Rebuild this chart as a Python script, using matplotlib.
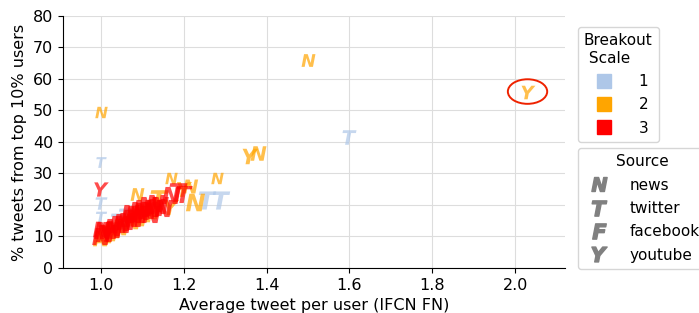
import matplotlib
matplotlib.use("Agg")
import matplotlib.pyplot as plt
from matplotlib.patches import Ellipse
from matplotlib.lines import Line2D

# data
x_vals = [2.03, 1.50, 1.60, 1.359, 1.378, 1.00, 1.00, 1.00, 1.00, 1.00,
          1.17, 1.28, 1.29, 1.255, 1.226, 1.14, 1.17, 1.20, 1.215, 1.087,
          1.00, 1.01, 1.02, 1.03, 1.045, 1.06, 1.075, 1.09, 1.105, 1.12, 1.04, 1.06,
          1.00, 1.005, 1.01, 1.02, 1.03, 1.04, 1.05, 1.06, 1.07, 1.08, 1.09, 1.10,
          1.11, 1.12, 1.13, 1.14, 1.15, 1.07, 1.08, 1.10, 1.12, 1.03, 1.05,
          1.17, 1.185, 1.20, 1.09, 1.11, 1.13, 1.02, 1.0]
y_vals = [56, 66, 41.5, 35.5, 36.5, 49.5, 33.5, 25, 20.5, 16.2,
          28.6, 28.6, 21.5, 21.5, 21, 22, 19.5, 25, 26, 23.5,
          9.5, 10.5, 11, 12, 13, 14, 15, 16, 17, 18, 15, 16.5,
          10, 12, 11, 12, 13, 14, 14.5, 15, 16, 17, 17, 18,
          18.5, 19, 19.5, 20, 19, 17.5, 16, 19, 17, 12.5, 14,
          23, 24, 23.5, 18.5, 20, 20.5, 11, 12.5]
scale_vals = [2, 2, 1, 2, 2, 2, 1, 3, 1, 1,
              2, 2, 1, 1, 2, 2, 2, 2, 2, 2,
              2, 2, 2, 2, 2, 1, 2, 2, 2, 2, 1, 1,
              3, 3, 3, 3, 3, 3, 3, 3, 3, 3, 3, 3,
              3, 3, 3, 3, 3, 3, 3, 3, 3, 3, 3,
              3, 3, 3, 3, 3, 3, 3, 3]
source_vals = ["Y", "N", "T", "Y", "N", "N", "T", "Y", "T", "T",
               "N", "N", "T", "T", "N", "T", "Y", "Y", "N", "N",
               "N", "N", "N", "N", "N", "T", "N", "N", "N", "N", "T", "T",
               "N", "N", "N", "N", "N", "N", "N", "N", "N", "N", "N", "N",
               "N", "N", "N", "N", "N", "N", "N", "N", "N", "N", "N",
               "N", "T", "T", "N", "N", "N", "Y", "N"]
size_vals = [100, 100, 110, 130, 130, 80, 60, 110, 80, 70,
             80, 80, 170, 170, 190, 180, 130, 120, 120, 100,
             150, 150, 150, 150, 150, 130, 150, 150, 150, 150, 130, 130,
             180, 180, 180, 180, 180, 180, 180, 180, 180, 180, 180, 180,
             180, 180, 180, 180, 180, 180, 180, 180, 180, 180, 180,
             180, 180, 150, 180, 180, 180, 150, 150]

scale_labels = ["1", "2", "3"]
scale_colors = {1: "#aec7e8", 2: "#ffa500", 3: "#ff0000"}
source_letters = ["N", "T", "F", "Y"]
source_names = ["news", "twitter", "facebook", "youtube"]
highlight = (2.03, 56)

plt.rcParams["font.family"] = ["DejaVu Sans"]
fig = plt.figure(figsize=(6.99, 3.13), dpi=100)
ax = fig.add_axes([0.09, 0.144, 0.718, 0.805])

for xv, yv, sc, src, sz in zip(x_vals, y_vals, scale_vals, source_vals, size_vals):
    ax.scatter([xv], [yv], marker=f"$\\mathbfit{{{src}}}$", s=sz,
               color=scale_colors[sc], alpha=0.7, linewidths=0, zorder=2 + sc)

ax.add_patch(Ellipse(highlight, width=0.095, height=7.8, fill=False,
                     edgecolor="#ee2200", linewidth=1.4, zorder=8))

ax.set_xlim(0.908, 2.12)
ax.set_ylim(0, 80)
ax.set_xticks([1.0, 1.2, 1.4, 1.6, 1.8, 2.0])
ax.set_yticks(range(0, 81, 10))
ax.grid(True, color="#dddddd", linewidth=0.8)
ax.set_axisbelow(True)
ax.spines["top"].set_visible(False)
ax.spines["right"].set_visible(False)
ax.tick_params(labelsize=11.5)
ax.set_xlabel("Average tweet per user (IFCN FN)", fontsize=11.5)
ax.set_ylabel("% tweets from top 10% users", fontsize=11.5)

h1 = [Line2D([], [], marker="s", linestyle="", markersize=10,
             color=scale_colors[i + 1], label=lab) for i, lab in enumerate(scale_labels)]
leg1 = ax.legend(handles=h1, title="Breakout\n Scale", loc="upper left",
                 bbox_to_anchor=(1.026, 0.956), fontsize=11, title_fontsize=11,
                 frameon=True, handletextpad=1.3, borderaxespad=0, labelspacing=0.55)
ax.add_artist(leg1)
h2 = [Line2D([], [], marker=f"$\\mathbfit{{{l}}}$", linestyle="", markersize=11,
             color="gray", label=n) for l, n in zip(source_letters, source_names)]
ax.legend(handles=h2, title="Source", loc="upper left",
          bbox_to_anchor=(1.026, 0.476), fontsize=11, title_fontsize=11,
          frameon=True, handletextpad=1.0, borderaxespad=0, labelspacing=0.55)

fig.savefig("out.png", dpi=100)
